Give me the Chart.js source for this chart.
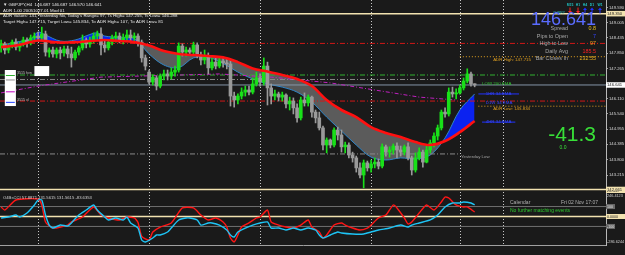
<!DOCTYPE html>
<html><head><meta charset="utf-8">
<script src="https://cdn.jsdelivr.net/npm/chart.js@4.4.1/dist/chart.umd.min.js"></script>
<style>
html,body{margin:0;padding:0;background:#1a1a1a;overflow:hidden;width:625px;height:255px}
.p{position:absolute;left:0;width:625px}
#w1{top:0;height:191px}
#w2{top:191px;height:64px}
</style></head><body>
<div class="p" id="w1"><canvas id="c1"></canvas></div>
<div class="p" id="w2"><canvas id="c2"></canvas></div>
<script>
// ---------------- data ----------------
const TIME_LABELS = ['4 Oct 2018','5 Oct 16:00','9 Oct 00:00','10 Oct 08:00','11 Oct 16:00','15 Oct 00:00','16 Oct 08:00','17 Oct 16:00','19 Oct 00:00','22 Oct 08:00','23 Oct 16:00','25 Oct 00:00','26 Oct 08:00','29 Oct 16:00','31 Oct 00:00','1 Nov 08:00','2 Nov 16:00'];
const TIME_LABEL_BARS = [0,8,16,24,32,40,48,56,64,72,80,88,96,104,112,120,128];
const PRICE_TICKS = [149.590,149.005,148.435,147.850,147.265,146.110,145.540,144.955,144.385,143.800,143.215];
const SEPARATOR_BARS = [10,40,70,100,124,135.6];

const OPEN = [148.05,148.20,147.97,148.12,148.27,148.08,148.20,148.35,148.24,148.43,
148.50,148.43,148.58,147.89,147.97,147.82,147.97,147.86,148.01,147.82,
147.67,147.89,148.05,148.35,148.20,148.35,148.50,148.58,148.16,148.05,
148.27,148.43,148.50,148.35,148.43,148.54,148.43,148.50,148.27,147.67,
147.13,146.75,146.91,146.60,146.98,147.06,146.98,147.13,147.21,148.12,
147.89,147.97,147.89,148.16,147.78,147.59,147.74,147.29,147.51,147.36,
147.55,147.48,147.44,146.22,146.07,146.22,146.37,146.45,146.37,146.68,
146.91,146.75,147.36,146.53,146.22,146.30,146.18,146.26,145.92,146.03,
145.77,145.39,146.07,145.96,146.18,145.61,145.39,145.01,144.36,144.55,
144.36,144.93,144.74,144.29,144.36,143.98,143.87,143.49,143.22,143.68,
143.49,143.64,143.71,143.56,144.29,144.09,144.17,144.32,144.17,144.09,
144.29,143.87,143.41,143.87,144.09,143.71,144.17,144.44,144.70,145.01,
145.61,145.54,146.37,146.30,146.34,146.53,146.79,147.06,146.687];
const HIGH = [148.35,148.27,148.20,148.35,148.39,148.27,148.46,148.43,148.54,148.62,
148.65,148.84,148.69,148.05,148.08,148.05,148.08,148.12,148.12,148.08,
147.97,148.12,148.54,148.43,148.46,148.62,148.69,148.81,148.35,148.35,
148.54,148.65,148.62,148.58,148.73,148.73,148.62,148.58,148.35,147.78,
147.21,147.02,146.98,147.06,147.21,147.21,147.29,147.36,148.24,148.20,
148.08,148.05,148.27,148.24,147.89,147.97,147.86,147.67,147.67,147.70,
147.70,147.67,147.59,146.37,146.30,146.53,146.60,146.60,146.91,147.13,
147.06,147.67,147.51,146.68,146.45,146.37,146.37,146.30,146.18,146.15,
145.92,146.18,146.34,146.26,146.22,145.69,145.61,145.08,144.63,144.59,
145.01,145.04,144.93,144.47,144.44,144.09,143.94,143.68,143.79,143.75,
143.79,143.87,143.83,144.40,144.36,144.29,144.40,144.44,144.32,144.36,
144.44,143.94,144.06,144.25,144.17,144.36,144.55,144.82,145.12,145.69,
145.77,146.53,146.56,146.49,146.64,146.91,147.255,147.13,146.687];
const LOW = [147.89,147.82,147.86,148.05,147.97,147.93,148.12,148.08,148.16,148.27,
148.31,148.35,147.74,147.70,147.70,147.67,147.63,147.74,147.67,147.32,
147.59,147.78,147.97,148.05,148.08,148.24,148.35,147.78,147.89,147.97,
148.16,148.27,148.24,148.20,148.31,148.27,148.27,148.12,147.51,147.21,
146.68,146.64,146.45,146.53,146.83,146.83,146.87,146.98,147.13,147.74,
147.74,147.78,147.82,147.67,147.40,147.44,147.06,147.21,147.25,147.29,
147.32,147.25,145.84,145.80,145.92,146.11,146.22,146.26,146.30,146.60,
146.60,146.64,145.88,145.92,146.07,146.03,146.03,145.77,145.69,145.54,
145.23,145.31,145.84,145.84,145.42,145.20,144.93,144.17,144.06,144.25,
144.29,144.55,144.09,144.06,143.87,143.71,143.33,143.11,142.73,143.37,
143.33,143.49,143.45,143.49,143.94,143.90,144.02,143.87,143.94,143.98,
143.79,143.22,143.33,143.79,143.52,143.68,144.06,144.29,144.55,144.93,
145.42,145.46,146.18,146.11,146.29,146.45,146.72,146.60,146.570];
const CLOSE = [148.20,147.97,148.12,148.27,148.08,148.20,148.35,148.24,148.43,148.50,
148.43,148.58,147.89,147.97,147.82,147.97,147.86,148.01,147.82,147.67,
147.89,148.05,148.35,148.20,148.35,148.50,148.58,148.16,148.05,148.27,
148.43,148.50,148.35,148.43,148.54,148.43,148.50,148.27,147.67,147.36,
146.75,146.94,146.60,146.98,147.06,146.98,147.13,147.21,148.12,147.89,
147.97,147.89,148.16,147.78,147.59,147.74,147.29,147.51,147.36,147.55,
147.48,147.44,146.22,146.07,146.22,146.37,146.45,146.37,146.68,146.91,
146.75,147.36,146.53,146.22,146.30,146.18,146.26,145.92,146.03,145.77,
145.39,146.07,145.96,146.18,145.61,145.39,145.01,144.36,144.55,144.36,
144.93,144.74,144.29,144.36,143.98,143.87,143.49,143.22,143.68,143.49,
143.64,143.71,143.56,144.29,144.09,144.17,144.32,144.17,144.09,144.29,
143.87,143.41,143.87,144.09,143.71,144.17,144.44,144.70,145.01,145.61,
145.54,146.37,146.30,146.34,146.53,146.79,147.06,146.68,146.641];

const EMA_BARS = [0,4,8,10,12,16,20,24,26,28,32,36,40,44,48,52,56,60,64,68,72,76,80,84,88,92,96,100,104,108,112,116,120,124,128];
const EMA_4H = [148.08,148.14,148.27,148.33,148.31,148.25,148.27,148.31,148.33,148.35,148.31,148.27,148.14,147.93,147.82,147.78,147.74,147.69,147.51,147.27,147.15,147.02,146.87,146.60,146.07,145.69,145.42,145.04,144.82,144.66,144.47,144.36,144.51,144.85,145.27];
const EMA_1H = [148.16,148.27,148.39,148.65,148.54,148.31,148.35,148.56,148.62,148.50,148.45,148.41,147.82,147.40,147.30,147.67,147.69,147.46,147.13,146.87,146.68,146.56,146.37,145.99,145.42,144.89,144.36,143.90,143.79,143.87,143.83,143.98,144.63,145.69,146.30];
const D1_EMA_BARS = [0,10,27,59,73,89,113,123];
const D1_EMA = [146.34,146.60,146.94,147.06,146.94,146.72,146.18,146.07];

const TOP_LEVEL = 149.350, PIVOT_HIGH = 148.22, ADR_HIGH = 147.715, LOW_200_EMA = 147.02,
      PREV_LEVEL = 146.85, CURRENT = 146.641, PIVOT_LOW = 146.03, ADR_LOW = 145.834,
      YESTERDAY_LOW = 144.02, BOTTOM_LEVEL = 142.67, H1_EMA_MARK = 146.30, H4_EMA_MARK = 145.23;

const IND_RED_BARS = [0,1,4,10,11,12,14,18,19,22,25,27,29,32,34,36,37,38,40,41,43,46,49,52,54,56,58,60,61,62,63,64,65,67,69,70,72,73,75,77,79,81,83,84,86,87,88,90,92,93,95,97,99,100,102,104,106,107,109,110,111,113,115,117,119,120,121,123,125,126,128];
const IND_RED = [96,65,166,176,116,-55,-116,-86,-55,-5,96,15,-15,-35,-5,-15,-60,-200,-236,-156,-106,-65,86,86,15,-35,-15,-55,-106,-216,-256,-186,-106,-65,-15,-5,65,-55,-86,-106,-116,-86,-35,-106,-156,-216,-186,-86,-65,-86,-116,-136,-116,-86,-15,15,116,86,-15,-75,-55,35,116,65,146,196,186,116,96,96,45];
const IND_CYAN_BARS = [0,2,4,5,7,9,10,11,12,13,14,16,18,19,21,23,25,26,28,29,31,33,34,35,37,38,39,41,42,43,45,46,48,50,51,53,54,56,57,59,61,62,63,64,66,68,70,72,73,75,77,79,81,83,85,86,87,89,91,92,95,98,100,102,105,108,110,111,113,116,118,120,122,124,125,127,128];
const IND_CYAN = [-15,-5,15,-5,35,116,166,166,15,-86,-116,-86,-96,-65,15,65,116,65,-5,-35,-15,-35,-5,-65,-116,-236,-256,-216,-186,-186,-156,-116,-35,-15,-15,-35,-86,-65,-65,-86,-136,-186,-206,-156,-116,-86,-65,-55,-116,-116,-136,-116,-136,-116,-136,-186,-216,-186,-156,-166,-176,-176,-156,-136,-116,-86,-106,-86,-65,-35,15,96,136,136,146,136,116];
const IND_LEVELS = [100, 0, -100];

// ---------------- layout constants ----------------
const X_MIN = -0.3, X_MAX = 163.5;
const Y_MIN = 142.612, Y_MAX = 149.87;
const IND_MIN = -286.6244, IND_MAX = 246.4123;
const FONT = '"Liberation Sans", Arial, sans-serif';
const BULL = '#19e019', BEAR = '#9a9a9a';
const AXIS_W = 19;

const col = i => CLOSE[i] >= OPEN[i] ? BULL : BEAR;
const hline = (a, b, v) => [{x: a, y: v}, {x: b, y: v}];
const lvl = (data, color, dash, width, order) => ({type: 'line', data, borderColor: color, borderWidth: width || 1,
  borderDash: dash || [], pointRadius: 0, fill: false, tension: 0, order: order === undefined ? 4 : order});
const DASHDOT = [5, 2, 1, 2];

function T(c, s, x, y, color, size, align, weight) {
  c.font = (weight ? weight + ' ' : '') + size + 'px ' + FONT;
  c.fillStyle = color; c.textAlign = align || 'left'; c.textBaseline = 'middle';
  c.fillText(s, x, y);
}
function box(c, x, y, w, h, bg, txt, fg, size) {
  c.fillStyle = bg; c.fillRect(x, y - h / 2, w, h);
  T(c, txt, x + 1, y + 0.3, fg, size);
}
function separators(chart) {
  const c = chart.ctx, xs = chart.scales.x, a = chart.chartArea;
  c.save(); c.strokeStyle = '#c8c8c8'; c.lineWidth = 1; c.setLineDash([1, 2]);
  SEPARATOR_BARS.forEach(b => {
    const x = Math.round(xs.getPixelForValue(b)) + 0.5;
    c.beginPath(); c.moveTo(x, a.top); c.lineTo(x, a.bottom); c.stroke();
  });
  c.restore();
}
function arrow(c, x, y, up, color) {
  c.strokeStyle = color; c.fillStyle = color; c.lineWidth = 1;
  c.beginPath();
  if (up) { c.moveTo(x, y + 3); c.lineTo(x, y - 1); c.stroke(); c.beginPath(); c.moveTo(x - 2, y - 0.5); c.lineTo(x + 2, y - 0.5); c.lineTo(x, y - 3); }
  else { c.moveTo(x, y - 3); c.lineTo(x, y + 1); c.stroke(); c.beginPath(); c.moveTo(x - 2, y + 0.5); c.lineTo(x + 2, y + 0.5); c.lineTo(x, y + 3); }
  c.closePath(); c.fill();
}

const mainHud = {
  id: 'mainHud',
  beforeDatasetsDraw(chart) { separators(chart); },
  afterDraw(chart) {
    const c = chart.ctx, xs = chart.scales.x, ys = chart.scales.y;
    const X = b => xs.getPixelForValue(b), Y = p => ys.getPixelForValue(p);
    c.save();
    // left objects
    c.fillStyle = '#ffffff';
    c.fillRect(X(1), Y(147.21), X(4) - X(1), Y(145.84) - Y(147.21));
    c.fillRect(X(9), Y(147.36), X(13) - X(9), Y(146.98) - Y(147.36));
    [['#30b030', 147.02], ['#909090', 146.85], ['#c000c0', 146.40], ['#2040ff', 146.0]].forEach(([cl, p]) => {
      c.fillStyle = cl; c.fillRect(X(1.3), Y(p), X(3.7) - X(1.3), 1);
    });
    T(c, '3515 hvn', X(4.3), Y(147.08), '#c0c0c0', 3.6);
    T(c, '3515 vl', X(4.3), Y(146.07), '#c0c0c0', 3.6);
    // top-left info
    T(c, '\u25BC GBPJPY,H4  146.687 146.687 146.570 146.641', 3, 5, '#e6e6e6', 4.4);
    T(c, 'ADR 1.00 20051027.01 Mod 01', 3, 11, '#e6e6e6', 4.4);
    T(c, "ADR Values: 141, Yesterday No, Today's Range= 97, Ts High= 147.255, Ts Low= 146.288", 3, 16, '#e6e6e6', 4.4);
    T(c, 'Target High= 147.715, Target Low= 145.834, To ADR High= 107, To ADR Low= 81', 3, 21.5, '#e6e6e6', 4.4);
    // line labels
    T(c, 'ADR High: 147.715', X(133), Y(147.60), '#e0a020', 4.4);
    T(c, 'LOW 200 EMA', X(130), Y(146.69), '#30c030', 4.4);
    T(c, '1HR 34 EMA', X(131), Y(146.30), '#3344ff', 4.4);
    T(c, 'D1W 34 EMA', X(131), Y(145.96), '#3344ff', 4.4);
    T(c, 'ADR Low: 145.834', X(133), Y(145.72), '#e0a020', 4.4);
    T(c, '4HR 34 EMA', X(131), Y(145.23), '#3344ff', 4.4);
    T(c, 'Yesterday Low', X(124.3), Y(143.90), '#a0a0a0', 4.4);
    // top-right panel
    const tf = [['M15', 570, false], ['H1', 578, false], ['H4', 585, true], ['D1', 592, true], ['W1', 600, true]];
    tf.forEach(([s, x, up]) => {
      T(c, s, x, 5, '#20c0c0', 3.4, 'center', 'bold');
      arrow(c, x, 10.5, up, up ? '#2233ff' : '#ff2020');
    });
    T(c, 'CURRY', 559, 13, '#20c0c0', 3.4, 'center');
    T(c, '146.641', 596, 20, '#5a6cff', 18, 'right');
    const rows = [['Spread', '0.8', '#e8c020'], ['Pips to Open', '7', '#3344ff'], ['High to Low', '97', '#e8a020'],
                  ['Daily Avg', '185.5', '#ff2020'], ['Bar Closes In', '232:55', '#e8b020']];
    rows.forEach(([l, v, vc], k) => {
      const y = 29 + k * 7.4;
      T(c, l, 568, y, '#a8a8a8', 5.4, 'right');
      T(c, v, 596, y, vc, 5.4, 'right');
    });
    T(c, '-41.3', 596, 135, '#38e038', 21, 'right');
    T(c, '0.0', 563, 148, '#38e038', 5, 'center');
    // axis boxes
    box(c, 606, Y(TOP_LEVEL), AXIS_W, 5.5, '#f2e2b0', TOP_LEVEL.toFixed(3), '#222', 4.2);
    box(c, 606, Y(CURRENT), AXIS_W, 5.5, '#ffffff', CURRENT.toFixed(3), '#222', 4.2);
    box(c, 606, Y(BOTTOM_LEVEL), AXIS_W, 5.5, '#f2e2b0', '142.661', '#222', 4.2);
    c.restore();
  }
};

const indHud = {
  id: 'indHud',
  beforeDatasetsDraw(chart) { separators(chart); },
  afterDraw(chart) {
    const c = chart.ctx, ys = chart.scales.y, a = chart.chartArea;
    c.save();
    T(c, 'O4BsCCI 57.8871 131.5615 131.5615 -83.6353', 3, a.top + 6, '#d0d0d0', 4.2);
    T(c, 'Calendar', 510, a.top + 11, '#b0b0b0', 5);
    T(c, 'Fri 02 Nov 17:07', 598, a.top + 11, '#b0b0b0', 5, 'right');
    T(c, 'No further matching events', 510, a.top + 19, '#2ec82e', 5);
    T(c, IND_MAX.toFixed(4), 607, a.top + 4, '#d0d0d0', 3.8);
    T(c, IND_MIN.toFixed(4), 607, a.bottom - 3, '#d0d0d0', 3.8);
    box(c, 606, ys.getPixelForValue(100), 9, 5, '#6a6a6a', '100', '#e0e0e0', 3.6);
    box(c, 606, ys.getPixelForValue(0), AXIS_W, 5, '#f2e2b0', '0.0000', '#222', 3.6);
    box(c, 606, ys.getPixelForValue(-100), 9, 5, '#6a6a6a', '-100', '#e0e0e0', 3.6);
    box(c, 606, a.top - 1, AXIS_W, 4, '#f2e2b0', '249.449', '#222', 3.4);
    c.restore();
  }
};

const END = X_MAX;
const mainDatasets = [
  {type: 'line', data: EMA_BARS.map((b, k) => ({x: b, y: EMA_4H[k]})), borderColor: '#ff1010', borderWidth: 2.6,
   pointRadius: 0, tension: 0.35, fill: false, order: -1},
  {type: 'line', data: EMA_BARS.map((b, k) => ({x: b, y: EMA_1H[k]})), borderColor: '#2f86c8', borderWidth: 1,
   pointRadius: 0, tension: 0.35, fill: {target: 0, above: '#0b22f0', below: '#5b5b5b'}, order: 5},
  lvl(hline(X_MIN, END, TOP_LEVEL), '#f2e2b0', [], 1.5),
  lvl(hline(X_MIN, END, PIVOT_HIGH), '#d01818', DASHDOT),
  lvl(hline(124, END, ADR_HIGH), '#e0a020', [1, 2]),
  lvl(hline(X_MIN, END, LOW_200_EMA), '#30b030', DASHDOT),
  lvl(hline(X_MIN, 124, PREV_LEVEL), '#8a8a8a', DASHDOT),
  lvl(hline(X_MIN, END, CURRENT), '#8496a8', [], 1),
  lvl(hline(X_MIN, END, PIVOT_LOW), '#d01818', DASHDOT),
  lvl(hline(129, END, ADR_LOW), '#e0a020', [1, 2]),
  lvl(hline(X_MIN, 124, YESTERDAY_LOW), '#8a8a8a', DASHDOT),
  lvl(hline(X_MIN, END, BOTTOM_LEVEL), '#f2e2b0', [], 1.5),
  lvl(hline(129, 140, H1_EMA_MARK), '#2233ff', [], 1),
  lvl(hline(130, 139, H4_EMA_MARK), '#2233ff', [], 1),
  lvl(D1_EMA_BARS.map((b, k) => ({x: b, y: D1_EMA[k]})), '#c020c0', [4, 2, 1, 2], 1, 3),
  {type: 'bar', data: LOW.map((l, i) => ({x: i, y: [l, HIGH[i]]})), backgroundColor: ctx => col(ctx.dataIndex),
   barThickness: 1, grouped: false, order: 0},
  {type: 'bar', data: OPEN.map((o, i) => ({x: i, y: [o, CLOSE[i]]})), backgroundColor: ctx => col(ctx.dataIndex),
   barThickness: 3, minBarLength: 1, grouped: false, order: 0}
];

const common = {
  responsive: true, maintainAspectRatio: false, animation: false, devicePixelRatio: 1, events: [],
  plugins: {legend: {display: false}, tooltip: {enabled: false}}
};

new Chart(document.getElementById('c1'), {
  type: 'bar',
  data: {datasets: mainDatasets},
  options: Object.assign({}, common, {
    layout: {padding: 0},
    scales: {
      x: {type: 'linear', display: false, min: X_MIN, max: X_MAX, offset: false},
      y: {type: 'linear', position: 'right', min: Y_MIN, max: Y_MAX,
        afterBuildTicks: s => { s.ticks = PRICE_TICKS.map(v => ({value: v})); },
        afterFit: s => { s.width = AXIS_W; s.paddingTop = 0; s.paddingBottom = 0; },
        ticks: {autoSkip: false, padding: 1, color: '#d8d8d8', font: {size: 4.2, family: FONT},
                callback: v => v.toFixed(3)},
        grid: {drawOnChartArea: false, drawTicks: true, tickLength: 2, color: '#a0a0a0'},
        border: {display: true, color: '#b8b8b8', width: 1}}
    }
  }),
  plugins: [mainHud]
});

new Chart(document.getElementById('c2'), {
  type: 'line',
  data: {datasets: [
    lvl(hline(X_MIN, X_MAX, IND_LEVELS[0]), '#707070', [], 1, 5),
    lvl(hline(X_MIN, X_MAX, IND_LEVELS[1]), '#f2e2b0', [], 1.5, 5),
    lvl(hline(X_MIN, X_MAX, IND_LEVELS[2]), '#707070', [], 1, 5),
    {data: IND_RED_BARS.map((b, k) => ({x: b, y: IND_RED[k]})), borderColor: '#ff1515', borderWidth: 1.4, pointRadius: 0, tension: 0.2, order: 1},
    {data: IND_CYAN_BARS.map((b, k) => ({x: b, y: IND_CYAN[k]})), borderColor: '#1ec4f5', borderWidth: 1.4, pointRadius: 0, tension: 0.2, order: 0}
  ]},
  options: Object.assign({}, common, {
    layout: {padding: {top: 1, left: 0, right: 0, bottom: 0}},
    scales: {
      x: {type: 'linear', min: X_MIN, max: X_MAX, offset: false,
        afterBuildTicks: s => { s.ticks = TIME_LABEL_BARS.map(v => ({value: v})); },
        afterFit: s => { s.height = 10; s.paddingLeft = 0; s.paddingRight = 0; },
        ticks: {align: 'start', maxRotation: 0, minRotation: 0, autoSkip: false, padding: 1.5, color: '#d0d0d0',
                font: {size: 3.8, family: FONT}, callback: v => TIME_LABELS[TIME_LABEL_BARS.indexOf(v)]},
        grid: {display: false}, border: {display: true, color: '#a0a0a0'}},
      y: {type: 'linear', position: 'right', min: IND_MIN, max: IND_MAX,
        afterFit: s => { s.width = AXIS_W; s.paddingTop = 0; s.paddingBottom = 0; },
        ticks: {display: false}, grid: {display: false},
        border: {display: true, color: '#b8b8b8', width: 1}}
    }
  }),
  plugins: [indHud]
});
</script>
</body></html>
